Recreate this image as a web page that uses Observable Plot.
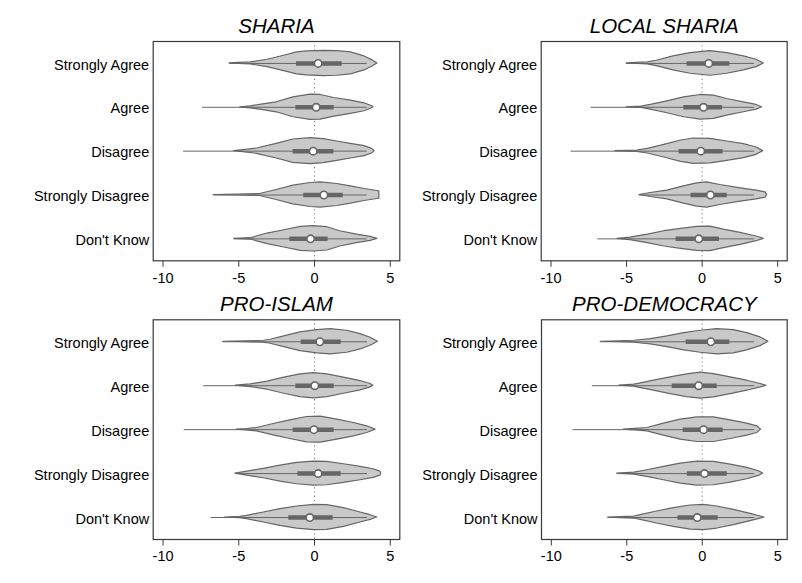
<!DOCTYPE html>
<html><head><meta charset="utf-8">
<script src="https://cdn.jsdelivr.net/npm/d3@7"></script>
<script src="https://cdn.jsdelivr.net/npm/@observablehq/plot@0.6"></script>
<style>
body{margin:0;background:#fff;}
#wrap{position:relative;width:802px;height:583px;background:#fff;overflow:hidden;}
.panel{position:absolute;}
</style></head><body><div id="wrap"></div>
<script>
const categories = ["Strongly Agree", "Agree", "Disagree", "Strongly Disagree", "Don't Know"];
const panelTitles = ["SHARIA", "LOCAL SHARIA", "PRO-ISLAM", "PRO-DEMOCRACY"];
const xTicks = [-10, -5, 0, 5];

// box statistics per panel: [Strongly Agree, Agree, Disagree, Strongly Disagree, Don't Know]
const shariaMedian = [0.24, 0.11, -0.09, 0.62, -0.26];
const shariaQ1 = [-1.19, -1.23, -1.41, -0.71, -1.63];
const shariaQ3 = [1.83, 1.30, 1.28, 1.90, 0.90];
const shariaLo = [-5.6, -7.4, -8.64, -6.66, -5.3];
const shariaHi = [3.48, 3.48, 3.48, 3.48, 3.48];

const localMedian = [0.44, 0.09, -0.09, 0.55, -0.22];
const localQ1 = [-0.99, -1.21, -1.52, -0.73, -1.72];
const localQ3 = [1.83, 1.35, 1.39, 1.66, 1.15];
const localLo = [-5.0, -7.35, -8.68, -4.15, -6.9];
const localHi = [3.47, 3.47, 3.47, 3.47, 3.47];

const islamMedian = [0.35, 0.02, -0.04, 0.24, -0.31];
const islamQ1 = [-0.88, -1.23, -1.41, -1.10, -1.70];
const islamQ3 = [1.76, 1.30, 1.30, 1.76, 1.23];
const islamLo = [-6.04, -7.32, -8.6, -5.22, -6.83];
const islamHi = [3.5, 3.5, 3.5, 3.5, 3.5];

const demoMedian = [0.57, -0.24, 0.09, 0.15, -0.33];
const demoQ1 = [-1.06, -1.99, -1.26, -0.99, -1.61];
const demoQ3 = [1.83, 0.99, 1.39, 1.66, 1.06];
const demoLo = [-6.73, -7.28, -8.56, -5.63, -6.23];
const demoHi = [3.47, 3.47, 3.47, 3.47, 3.47];

// density profiles [value, relative density]
const shariaDensity = [
  [[-5.6,0],[-5.0,1.5],[-4.2,3],[-3.1,11],[-2.0,23],[-1.15,33],[-0.5,36],[0.6,38],[1.5,37],[2.4,33],[3.3,21],[3.8,10],[4.15,0]],
  [[-4.9,0],[-4.2,3],[-3.6,7],[-2.5,15],[-1.4,30],[-0.26,38],[0.4,37],[1.3,28],[2.4,20],[3.3,12],[3.8,3],[3.9,0]],
  [[-5.3,0],[-4.7,3],[-3.8,8],[-2.5,22],[-1.4,35],[-0.26,39],[0.6,36],[1.5,29],[2.4,22],[3.3,15],[3.8,7],[3.97,0]],
  [[-6.66,0],[-5.0,1.5],[-3.6,3],[-2.5,15],[-1.4,28],[-0.26,36],[0.4,38],[1.5,33],[2.4,26],[3.3,18],[4.15,12],[4.28,11],[4.28,0]],
  [[-5.3,0],[-4.2,2],[-3.1,16],[-2.0,26],[-0.9,36],[-0.04,38],[0.84,35],[1.7,23],[2.8,13],[3.7,6],[4.15,0]]
];
const localDensity = [
  [[-5.0,0],[-3.6,3],[-3.0,8],[-1.9,21],[-0.77,31],[0.55,37],[1.66,31],[2.76,21],[3.6,11],[4.08,0]],
  [[-5.0,0],[-4.0,2],[-3.4,7],[-2.3,18],[-1.2,30],[-0.1,37],[0.77,35],[1.66,25],[2.76,15],[3.6,7],[3.97,0]],
  [[-5.74,0],[-4.3,2],[-3.6,7],[-2.5,19],[-1.4,32],[-0.55,38],[0.55,37],[1.66,29],[2.76,21],[3.6,11],[4.04,0]],
  [[-4.15,0],[-3.4,6],[-2.3,13],[-1.2,26],[-0.33,35],[0.33,38],[1.2,30],[2.54,20],[3.6,13],[4.2,8],[4.3,0]],
  [[-5.6,0],[-4.75,4],[-3.6,13],[-2.5,23],[-1.4,30],[-0.33,36],[0.55,37],[1.43,28],[2.54,18],[3.6,7],[4.08,0]]
];
const islamDensity = [
  [[-6.04,0],[-4.5,1.5],[-3.35,3],[-2.9,6],[-2.0,16],[-0.93,28],[0.18,35],[1.06,38],[2.16,33],[3.04,23],[3.7,12],[4.19,0]],
  [[-5.2,0],[-4.2,4],[-3.1,12],[-2.0,24],[-0.93,34],[-0.04,38],[0.84,34],[1.94,24],[3.04,14],[3.7,5],[3.88,0]],
  [[-5.16,0],[-4.5,2],[-3.8,5],[-2.7,17],[-1.6,28],[-0.5,38],[0.4,39],[1.5,30],[2.6,20],[3.48,10],[4.03,0]],
  [[-5.22,0],[-4.45,6],[-3.35,14],[-2.25,24],[-1.15,32],[-0.04,36],[0.84,35],[1.94,28],[3.04,20],[3.9,13],[4.35,6],[4.4,0]],
  [[-5.9,0],[-4.9,2],[-4.45,5],[-3.35,15],[-2.25,25],[-1.15,33],[-0.04,38],[0.84,37],[1.94,28],[3.04,15],[3.7,7],[4.14,0]]
];
const demoDensity = [
  [[-6.73,0],[-5.5,1.5],[-4.5,3],[-3.4,8],[-2.3,16],[-1.2,26],[-0.1,33],[0.99,38],[2.1,35],[2.98,26],[3.86,13],[4.39,0]],
  [[-5.5,0],[-4.5,3],[-4.3,5],[-3.2,15],[-2.1,25],[-1.0,34],[-0.1,39],[0.77,35],[1.88,25],[2.98,15],[3.86,5],[4.26,0]],
  [[-5.2,0],[-4.2,3],[-3.64,5],[-2.54,18],[-1.43,30],[-0.33,37],[0.77,37],[1.88,28],[2.98,18],[3.64,10],[3.9,0]],
  [[-5.63,0],[-4.5,3],[-3.64,10],[-2.54,20],[-1.43,30],[-0.33,36],[0.77,35],[1.88,27],[2.98,17],[3.75,7],[4.04,0]],
  [[-6.23,0],[-4.5,3],[-4.08,7],[-3.0,18],[-1.88,28],[-0.77,36],[0.11,38],[0.99,33],[2.1,23],[3.2,11],[4.13,0]]
];

const FONT = '"Liberation Sans", Arial, Helvetica, sans-serif';
const K = 0.296 / 39; // density -> half-width in category units

function makePanel(title, dens, med, q1, q3, lo, hi, lay) {
  const vrows = dens.flatMap((prof, i) => prof.map(([x, d]) => ({cat: i + 1, x, d})));
  const rows = categories.map((c, i) => ({cat: i + 1, med: med[i], q1: q1[i], q3: q3[i], lo: lo[i], hi: hi[i]}));
  const chart = Plot.plot({
    width: 401, height: lay.h,
    marginLeft: lay.ml, marginRight: lay.mr, marginTop: lay.mt, marginBottom: lay.mb,
    style: {fontFamily: FONT, fontSize: "14.5px", color: "#000", background: "transparent"},
    x: {domain: [-10.65, 5.63], label: null, axis: null},
    y: {domain: [0.5, 5.5], reverse: true, label: null, axis: null},
    marks: [
      Plot.ruleX([0], {stroke: "#808080", strokeDasharray: "1.2,3", strokeWidth: 1}),
      Plot.areaY(vrows, {x: "x", y1: (d) => d.cat - d.d * K, y2: (d) => d.cat + d.d * K, z: "cat",
        fill: "#c9c9c9", stroke: "#666666", strokeWidth: 1.2}),
      Plot.ruleY(rows, {y: "cat", x1: "lo", x2: "hi", stroke: "#666666", strokeWidth: 1}),
      Plot.ruleY(rows, {y: "cat", x1: "q1", x2: "q3", stroke: "#666666", strokeWidth: 4.5}),
      Plot.dot(rows, {x: "med", y: "cat", r: 3.7, fill: "white", stroke: "#666666", strokeWidth: 1.6}),
      Plot.frame({stroke: "#3a3a3a", strokeWidth: 1.2}),
      Plot.axisX(xTicks, {tickSize: 6.5, tickPadding: 5, stroke: "#3a3a3a", fill: "#000", fontSize: 14.5, label: null,
        tickFormat: (d) => String(d)}),
      Plot.axisY([1, 2, 3, 4, 5], {tickSize: 0, tickPadding: 4, dy: 1.5, tickFormat: (i) => categories[i - 1], fill: "#000", fontSize: 14.5, label: null}),
      Plot.text([title], {frameAnchor: "top", lineAnchor: "middle", dy: -15, fontSize: 20.5, fontStyle: "italic", fill: "#000"})
    ]
  });
  const div = document.createElement("div");
  div.className = "panel";
  div.style.left = lay.left + "px";
  div.style.top = lay.top + "px";
  div.appendChild(chart);
  document.getElementById("wrap").appendChild(div);
}

makePanel(panelTitles[0], shariaDensity, shariaMedian, shariaQ1, shariaQ3, shariaLo, shariaHi,
  {left: 0, top: 0, h: 292, ml: 152.7, mr: 1.7, mt: 41, mb: 31.7});
makePanel(panelTitles[1], localDensity, localMedian, localQ1, localQ3, localLo, localHi,
  {left: 401, top: 0, h: 292, ml: 139.7, mr: 15.3, mt: 41, mb: 31.7});
makePanel(panelTitles[2], islamDensity, islamMedian, islamQ1, islamQ3, islamLo, islamHi,
  {left: 0, top: 292, h: 291, ml: 152.7, mr: 1.7, mt: 27.3, mb: 44});
makePanel(panelTitles[3], demoDensity, demoMedian, demoQ1, demoQ3, demoLo, demoHi,
  {left: 401, top: 292, h: 291, ml: 140, mr: 15.3, mt: 27.3, mb: 44});
</script></body></html>
